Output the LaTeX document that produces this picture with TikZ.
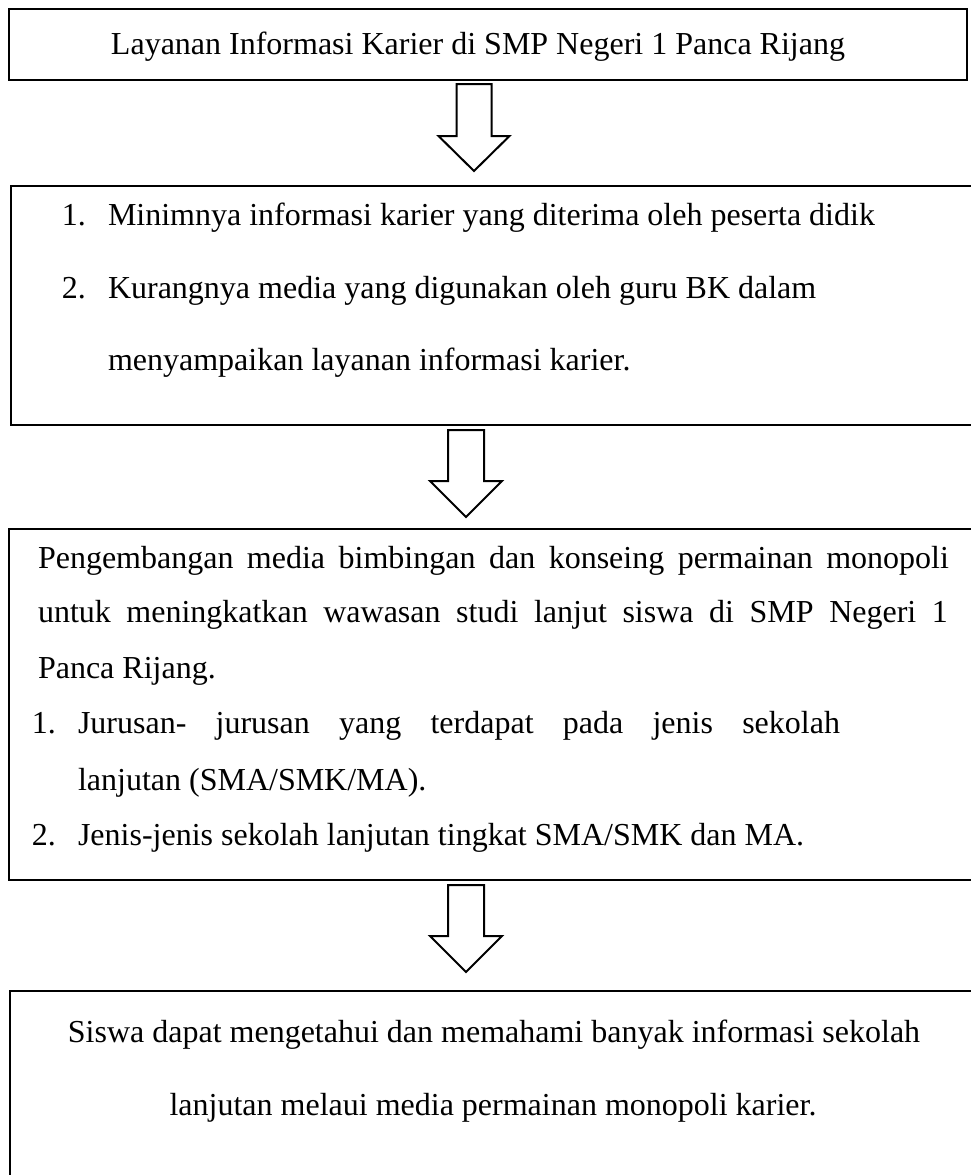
\documentclass[tikz,border=0pt]{standalone}
\usepackage{fontspec}
\setmainfont{Liberation Serif}
\usetikzlibrary{calc}
\newcommand\blkarrow[5]{% top coord, tip coord, head-start offset, half shaft, half head
  \draw[blk] ($(#1)+(-#4,0)$) -- ($(#1)+(#4,0)$) -- ($(#1)+(#4,#3)$) -- ($(#1)+(#5,#3)$)
    -- (#2) -- ($(#1)+(-#5,#3)$) -- ($(#1)+(-#4,#3)$) -- cycle;}
\begin{document}
\begin{tikzpicture}[x=0.375pt,y=-0.375pt,
  box/.style={draw,line width=1pt,inner sep=0pt,outer sep=0pt},
  txt/.style={anchor=base west,inner sep=0pt,outer sep=0pt,font=\fontsize{12}{14}\selectfont},
  ctxt/.style={txt,anchor=base},
  blk/.style={draw,line width=0.75pt,fill=white,line join=miter}]
\useasboundingbox (0,0) rectangle (971,1175);
\clip (0,0) rectangle (971,1175);
\fill[white] (0,0) rectangle (971,1175);

% boxes
\node[box,minimum width=359.25pt,minimum height=26.625pt] (b1) at (488,44.5) {};
\node[box,minimum width=363.375pt,minimum height=89.625pt] (b2) at (495.5,305.5) {};
\node[box,minimum width=364.125pt,minimum height=131.625pt] (b3) at (494.5,704.5) {};
\node[box,minimum width=363.75pt,minimum height=78.375pt] (b4) at (495,1095.5) {};

% box 1
\node[ctxt] (t1) at (478,54) {Layanan Informasi Karier di SMP Negeri 1 Panca Rijang};

% box 2
\node[txt] (n21) at (62,225) {1.};
\node[txt] (t21) at (108,225) {Minimnya informasi karier yang diterima oleh peserta didik};
\node[txt] (n22) at (62,298) {2.};
\node[txt] (t22) at (108,298) {Kurangnya media yang digunakan oleh guru BK dalam};
\node[txt] (t23) at (108,370) {menyampaikan layanan informasi karier.};

% box 3
\node[txt] (t31) at (38,568) {\makebox[341.6pt][s]{Pengembangan media bimbingan dan konseing permainan monopoli}};
\node[txt] (t32) at (38,622) {\makebox[341.2pt][s]{untuk meningkatkan wawasan studi lanjut siswa di SMP Negeri 1}};
\node[txt] (t33) at (38,678) {Panca Rijang.};
\node[txt] (n31) at (32,733) {1.};
\node[txt] (t34) at (78,733) {\makebox[285.75pt][s]{Jurusan- jurusan yang terdapat pada jenis sekolah}};
\node[txt] (t35) at (78,790) {lanjutan (SMA/SMK/MA).};
\node[txt] (n32) at (32,845) {2.};
\node[txt] (t36) at (78,845) {Jenis-jenis sekolah lanjutan tingkat SMA/SMK dan MA.};

% box 4
\node[ctxt] (t41) at (494,1042) {Siswa dapat mengetahui dan memahami banyak informasi sekolah};
\node[ctxt] (t42) at (493,1115) {lanjutan melaui media permainan monopoli karier.};

% block arrows
\coordinate (a1top) at (474,84);  \coordinate (a1tip) at (474,171);
\coordinate (a2top) at (466,430); \coordinate (a2tip) at (466,517);
\coordinate (a3top) at (466,885); \coordinate (a3tip) at (466,972);
\blkarrow{a1top}{a1tip}{52}{17.5}{35.5}
\blkarrow{a2top}{a2tip}{51}{18}{36}
\blkarrow{a3top}{a3tip}{51}{18}{36}
\end{tikzpicture}
\end{document}
